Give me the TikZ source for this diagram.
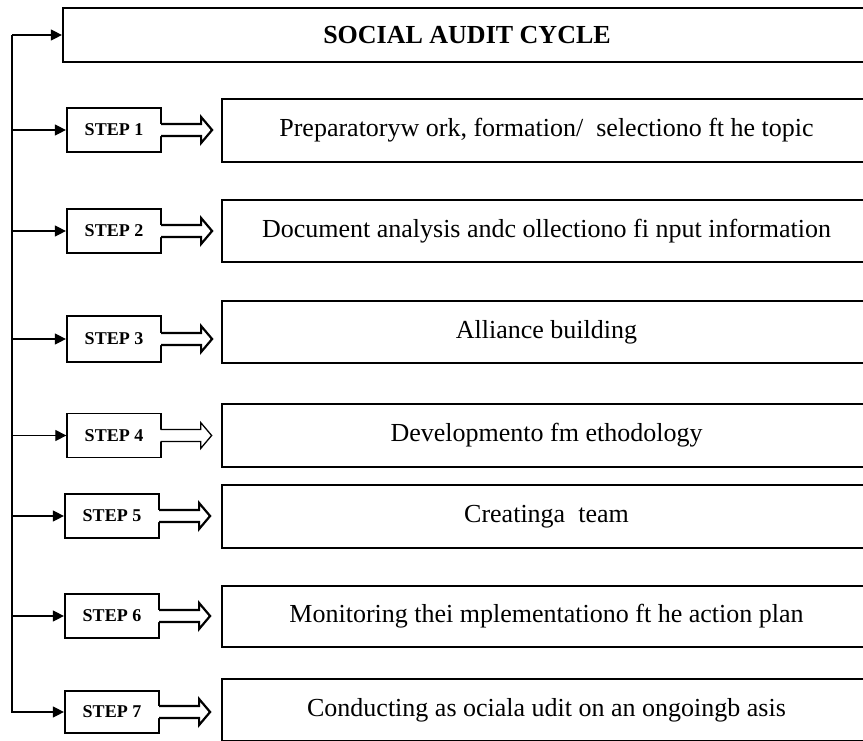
\documentclass[tikz,border=0pt]{standalone}
\usepackage{fontspec}
\setmainfont{Liberation Serif}
\usetikzlibrary{arrows.meta}
\newcommand\blockarrow[2][2.2pt]{%
  \begin{scope}[shift={(#2.east)}]
    \fill[white] (-3,-6) -- (39,-6) -- (39,-13) -- (50,0) -- (39,13) -- (39,6) -- (-3,6) -- cycle;
    \draw[line width=#1,line join=miter] (-1.1,-6) -- (39,-6) -- (39,-13) -- (50,0) -- (39,13) -- (39,6) -- (-1.1,6);
  \end{scope}}
\begin{document}
\begin{tikzpicture}[x=1pt,y=-1pt,
  stepbox/.style={draw,line width=2.2pt,minimum width=94pt,minimum height=44pt,inner sep=0pt,font=\fontsize{18}{20}\selectfont\bfseries},
  contentbox/.style={draw,line width=2.2pt,minimum width=649pt,minimum height=62pt,inner sep=0pt,font=\fontsize{26}{30}\selectfont},
  titlebox/.style={draw,line width=2.2pt,minimum width=808pt,minimum height=54pt,inner sep=0pt,font=\fontsize{26}{30}\selectfont\bfseries},
  feed/.style={line width=1.2pt,-{Triangle[length=11pt,width=11pt]}},
  ]
\useasboundingbox (0,0) rectangle (863,740);

\node[titlebox] (title) at (467,35) {SOCIAL AUDIT CYCLE};

\node[stepbox] (s1) at (114,130) {STEP 1};
\node[stepbox] (s2) at (114,231) {STEP 2};
\node[stepbox,minimum height=46pt] (s3) at (114,339) {STEP 3};
\node[stepbox,line width=1.3pt] (s4) at (114,435.5) {STEP 4};
\node[stepbox] (s5) at (112,516) {STEP 5};
\node[stepbox] (s6) at (112,616) {STEP 6};
\node[stepbox,minimum height=42pt] (s7) at (112,712) {STEP 7};

\node[contentbox,minimum height=63pt] (c1) at (546.5,130.5) {Preparatoryw ork, formation/~ selectiono ft he topic};
\node[contentbox] (c2) at (546.5,231) {Document analysis andc ollectiono fi nput information};
\node[contentbox] (c3) at (546.5,332) {Alliance building};
\node[contentbox,minimum height=63pt] (c4) at (546.5,435.5) {Developmento fm ethodology};
\node[contentbox,minimum height=63pt] (c5) at (546.5,516.5) {Creatinga~ team};
\node[contentbox,minimum height=61pt] (c6) at (546.5,616.5) {Monitoring thei mplementationo ft he action plan};
\node[contentbox] (c7) at (546.5,710) {Conducting as ociala udit on an ongoingb asis};

\coordinate (trunkTop) at (12,35);
\coordinate (trunkBot) at (12,713);
\draw[line width=1.2pt] (trunkTop) -- (trunkBot);
\draw[feed] (trunkTop) -- (title.west);
\foreach \s in {s1,s2,s3,s4,s5,s6,s7}{
  \draw[feed] (\s.west -| trunkTop) -- (\s.west);
}

\blockarrow{s1}
\blockarrow{s2}
\blockarrow{s3}
\blockarrow[1.3pt]{s4}
\blockarrow{s5}
\blockarrow{s6}
\blockarrow{s7}
\end{tikzpicture}
\end{document}
